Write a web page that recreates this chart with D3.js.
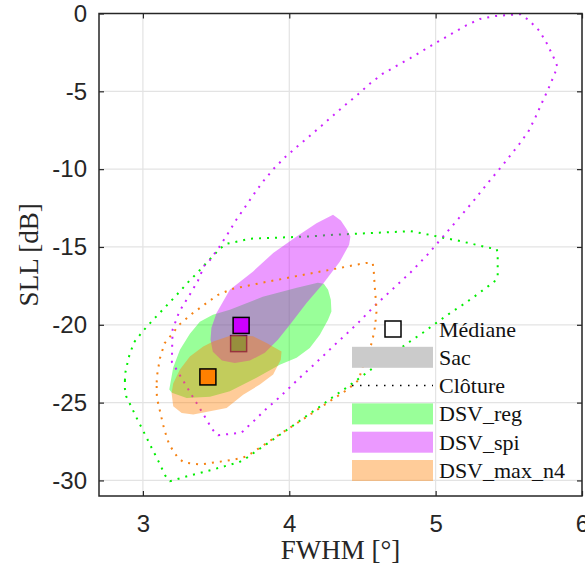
<!DOCTYPE html>
<html><head><meta charset="utf-8">
<script src="https://cdn.jsdelivr.net/npm/d3@7"></script>
<style>html,body{margin:0;padding:0;background:#fff;}svg{display:block;}</style>
</head><body>
<svg id="chart" width="585" height="570"></svg>
<script>
// ---------- DATA ----------
const seriesNames = ["DSV_reg", "DSV_spi", "DSV_max_n4"];
const xTicks = [3, 4, 5, 6];
const yTicks = [-30, -25, -20, -15, -10, -5, 0];
const legendLabels = ["Médiane", "Sac", "Clôture", "DSV_reg", "DSV_spi", "DSV_max_n4"];

const medianFWHM = [3.654, 3.671, 3.444];
const medianSLL = [-21.21, -20.04, -23.35];

const bagReg = [[3.180,-24.16],[3.207,-22.75],[3.253,-21.60],[3.321,-20.57],[3.389,-19.80],[3.478,-19.35],[3.594,-19.03],[3.819,-18.20],[4.052,-17.62],[4.195,-17.30],[4.236,-17.36],[4.265,-17.75],[4.284,-18.39],[4.288,-19.14],[4.265,-19.67],[4.209,-20.64],[4.140,-21.49],[4.050,-22.11],[3.935,-22.56],[3.776,-23.41],[3.685,-23.84],[3.594,-24.27],[3.458,-24.63],[3.299,-24.70],[3.198,-24.36]];
const bagSpi = [[4.299,-12.93],[4.352,-13.30],[4.391,-13.85],[4.418,-14.33],[4.409,-14.86],[4.345,-15.95],[4.231,-17.36],[4.118,-18.60],[4.004,-19.99],[3.922,-20.96],[3.833,-21.79],[3.731,-22.30],[3.628,-22.46],[3.540,-22.30],[3.478,-21.73],[3.462,-20.96],[3.468,-20.19],[3.503,-19.24],[3.594,-17.75],[3.753,-16.57],[3.890,-15.39],[4.050,-14.33],[4.186,-13.47]];
const bagMax = [[3.196,-24.38],[3.207,-23.78],[3.253,-22.88],[3.321,-22.03],[3.412,-21.39],[3.480,-21.07],[3.617,-20.64],[3.753,-20.74],[3.845,-21.17],[3.947,-21.71],[3.942,-22.24],[3.890,-23.20],[3.799,-23.84],[3.685,-24.49],[3.572,-25.34],[3.344,-25.77],[3.265,-25.66],[3.207,-25.24]];

const fenceReg = [[2.877,-23.59],[2.880,-23.07],[2.903,-22.09],[2.939,-21.13],[3.007,-20.33],[3.082,-19.56],[3.157,-18.82],[3.232,-18.07],[3.305,-17.30],[3.381,-16.57],[3.456,-15.80],[3.531,-15.07],[3.574,-14.79],[3.626,-14.69],[3.733,-14.47],[3.897,-14.41],[4.118,-14.33],[4.336,-14.20],[4.555,-14.11],[4.773,-14.01],[4.828,-13.98],[4.934,-14.17],[5.041,-14.39],[5.148,-14.58],[5.255,-14.81],[5.362,-15.05],[5.417,-15.13],[5.424,-15.39],[5.424,-16.35],[5.424,-16.85],[5.398,-17.28],[5.355,-17.55],[5.266,-18.18],[5.178,-18.76],[5.089,-19.31],[5.000,-19.91],[4.910,-20.53],[4.821,-21.10],[4.734,-21.68],[4.647,-22.29],[4.557,-22.88],[4.466,-23.52],[4.374,-24.15],[4.286,-24.72],[4.200,-25.32],[4.108,-25.92],[4.019,-26.52],[3.931,-27.10],[3.842,-27.68],[3.751,-28.27],[3.705,-28.58],[3.658,-28.83],[3.606,-28.96],[3.501,-29.24],[3.394,-29.51],[3.289,-29.77],[3.185,-30.05],[3.153,-29.69],[3.105,-28.74],[3.055,-27.82],[3.007,-26.91],[2.957,-25.98],[2.910,-25.06],[2.886,-24.60],[2.877,-24.10]];
const fenceSpi = [[3.514,-27.10],[3.569,-27.04],[3.624,-26.99],[3.676,-26.91],[3.717,-26.54],[3.756,-26.20],[3.833,-25.49],[3.915,-24.81],[3.995,-24.10],[4.072,-23.40],[4.154,-22.69],[4.234,-21.98],[4.311,-21.28],[4.393,-20.57],[4.473,-19.85],[4.589,-18.73],[4.707,-17.70],[4.828,-16.64],[4.939,-15.55],[5.046,-14.39],[5.155,-13.19],[5.260,-12.03],[5.362,-10.83],[5.467,-9.64],[5.569,-8.42],[5.633,-7.59],[5.681,-6.69],[5.726,-5.74],[5.772,-4.80],[5.815,-3.84],[5.831,-3.39],[5.811,-2.92],[5.763,-1.98],[5.710,-1.12],[5.633,-0.40],[5.578,-0.05],[5.521,-0.08],[5.410,-0.16],[5.303,-0.35],[5.206,-0.78],[5.110,-1.30],[5.016,-1.81],[4.921,-2.34],[4.828,-2.86],[4.732,-3.37],[4.637,-3.88],[4.550,-4.51],[4.470,-5.19],[4.386,-5.85],[4.302,-6.53],[4.220,-7.22],[4.138,-7.88],[4.054,-8.55],[3.974,-9.21],[3.895,-9.96],[3.826,-10.73],[3.763,-11.54],[3.699,-12.42],[3.637,-13.27],[3.581,-14.13],[3.521,-15.01],[3.458,-15.84],[3.419,-16.21],[3.376,-17.17],[3.321,-18.05],[3.265,-18.90],[3.241,-19.35],[3.203,-20.31],[3.200,-21.34],[3.198,-22.39],[3.226,-22.82],[3.282,-23.70],[3.337,-24.57],[3.394,-25.45],[3.451,-26.35],[3.480,-26.78]];
const fenceMax = [[3.094,-23.70],[3.098,-23.18],[3.116,-22.16],[3.148,-21.19],[3.185,-20.76],[3.251,-19.97],[3.333,-19.31],[3.422,-18.69],[3.510,-18.09],[3.608,-17.70],[3.717,-17.49],[3.824,-17.28],[3.931,-17.09],[4.040,-16.89],[4.145,-16.70],[4.254,-16.51],[4.361,-16.32],[4.470,-16.12],[4.523,-16.03],[4.570,-16.03],[4.577,-16.53],[4.584,-17.55],[4.593,-18.60],[4.596,-19.14],[4.586,-20.12],[4.566,-21.10],[4.534,-21.92],[4.495,-22.88],[4.475,-23.54],[4.395,-24.18],[4.304,-24.74],[4.213,-25.32],[4.122,-25.90],[4.026,-26.48],[3.935,-27.03],[3.847,-27.59],[3.756,-28.16],[3.710,-28.45],[3.662,-28.58],[3.608,-28.68],[3.499,-28.83],[3.389,-28.98],[3.337,-28.92],[3.282,-28.85],[3.239,-28.55],[3.180,-27.70],[3.146,-26.73],[3.121,-25.73],[3.096,-24.72],[3.094,-24.21]];

const bags = [bagReg, bagSpi, bagMax];
const fences = [fenceReg, fenceSpi, fenceMax];

// ---------- STYLE ----------
const seriesColors = ["#00ff00", "#cc00ff", "#ff8000"];
const fenceColors = ["#00ee00", "#cc22ff", "#f58214"];
const bagOpacity = 0.4;

// ---------- LAYOUT ----------
const W = 585, H = 570;
const margin = {left: 99, top: 13.5, right: 3, bottom: 74};
const svg = d3.select("#chart");
const x = d3.scaleLinear().domain([2.7, 6]).range([margin.left, W - margin.right]);
const y = d3.scaleLinear().domain([-31, 0]).range([H - margin.bottom, margin.top]);
const tickFont = "'Liberation Sans', Arial, sans-serif";
const serif = "'Liberation Serif', 'Times New Roman', serif";

// grid
const grid = svg.append("g").attr("stroke", "#e3e3e3").attr("stroke-width", 1.2);
grid.selectAll(".gx").data(xTicks).join("line")
  .attr("x1", d => x(d)).attr("x2", d => x(d)).attr("y1", y(-31)).attr("y2", y(0));
grid.selectAll(".gy").data(yTicks).join("line")
  .attr("y1", d => y(d)).attr("y2", d => y(d)).attr("x1", x(2.7)).attr("x2", x(6));

// clip
svg.append("clipPath").attr("id", "clip").append("rect")
  .attr("x", x(2.7)).attr("y", y(0)).attr("width", x(6) - x(2.7)).attr("height", y(-31) - y(0));
const plot = svg.append("g").attr("clip-path", "url(#clip)");

const line = d3.line().x(d => x(d[0])).y(d => y(d[1])).curve(d3.curveLinearClosed);
const sq = 16;
for (let i = 0; i < seriesNames.length; i++) {
  plot.append("path").attr("d", line(bags[i]))
    .attr("fill", seriesColors[i]).attr("fill-opacity", bagOpacity).attr("stroke", "none");
  plot.append("path").attr("d", line(fences[i]))
    .attr("fill", "none").attr("stroke", fenceColors[i]).attr("stroke-width", 2)
    .attr("stroke-dasharray", "2,6");
  plot.append("rect")
    .attr("x", x(medianFWHM[i]) - sq / 2).attr("y", y(medianSLL[i]) - sq / 2)
    .attr("width", sq).attr("height", sq)
    .attr("fill", seriesColors[i]).attr("stroke", "#000").attr("stroke-width", 1.5);
}

// axes
const axCol = "#262626";
function styleAxis(g, labels) {
  g.select(".domain").remove();
  g.selectAll(".tick line").attr("stroke", axCol).attr("stroke-width", 1.2);
  g.selectAll("text").attr("fill", axCol).style("font-family", tickFont).style("font-size", "24px");
  if (!labels) g.selectAll("text").remove();
}
svg.append("g").attr("transform", `translate(0,${y(-31)})`)
  .call(d3.axisBottom(x).tickValues(xTicks).tickFormat(d3.format("d")).tickSizeInner(-5).tickSizeOuter(0).tickPadding(19))
  .call(g => styleAxis(g, true));
svg.append("g").attr("transform", `translate(0,${y(0)})`)
  .call(d3.axisTop(x).tickValues(xTicks).tickSizeInner(-5).tickSizeOuter(0))
  .call(g => styleAxis(g, false));
svg.append("g").attr("transform", `translate(${x(2.7)},0)`)
  .call(d3.axisLeft(y).tickValues(yTicks).tickFormat(d => d3.format("d")(d).replace("−", "-")).tickSizeInner(-5).tickSizeOuter(0).tickPadding(12))
  .call(g => styleAxis(g, true));
svg.append("g").attr("transform", `translate(${x(6)},0)`)
  .call(d3.axisRight(y).tickValues(yTicks).tickSizeInner(-5).tickSizeOuter(0))
  .call(g => styleAxis(g, false));

svg.append("rect").attr("x", x(2.7)).attr("y", y(0))
  .attr("width", x(6) - x(2.7)).attr("height", y(-31) - y(0))
  .attr("fill", "none").attr("stroke", axCol).attr("stroke-width", 1.5);

// axis labels
svg.append("text").attr("x", (x(2.7) + x(6)) / 2).attr("y", 559)
  .attr("text-anchor", "middle").style("font-family", serif).style("font-size", "27px").attr("fill", axCol)
  .text("FWHM [°]");
svg.append("text").attr("transform", `translate(38,${(y(0) + y(-31)) / 2}) rotate(-90)`)
  .attr("text-anchor", "middle").style("font-family", serif).style("font-size", "27px").attr("fill", axCol)
  .text("SLL [dB]");

// legend
const lg = svg.append("g");
const lx0 = 352, lx1 = 433, ltx = 439, ly0 = 329, ldy = 28.3;
legendLabels.forEach((lab, i) => {
  const cy = ly0 + i * ldy;
  if (i === 0) {
    lg.append("rect").attr("x", (lx0 + lx1) / 2 - 8 + 0.5).attr("y", cy - 8)
      .attr("width", 16).attr("height", 16).attr("fill", "#fff").attr("stroke", "#000").attr("stroke-width", 1.5);
  } else if (i === 1) {
    lg.append("rect").attr("x", lx0).attr("y", cy - 10.5).attr("width", lx1 - lx0).attr("height", 21).attr("fill", "#cbcbcb");
  } else if (i === 2) {
    lg.append("line").attr("x1", lx0).attr("x2", lx1).attr("y1", cy).attr("y2", cy)
      .attr("stroke", "#000").attr("stroke-width", 1.5).attr("stroke-dasharray", "1.5,6.5");
  } else {
    lg.append("rect").attr("x", lx0).attr("y", cy - 10.5).attr("width", lx1 - lx0).attr("height", 21)
      .attr("fill", seriesColors[i - 3]).attr("fill-opacity", bagOpacity);
  }
  lg.append("text").attr("x", ltx).attr("y", cy + 7.5)
    .style("font-family", serif).style("font-size", "22px").attr("fill", "#111").text(lab);
});
</script>
</body></html>
